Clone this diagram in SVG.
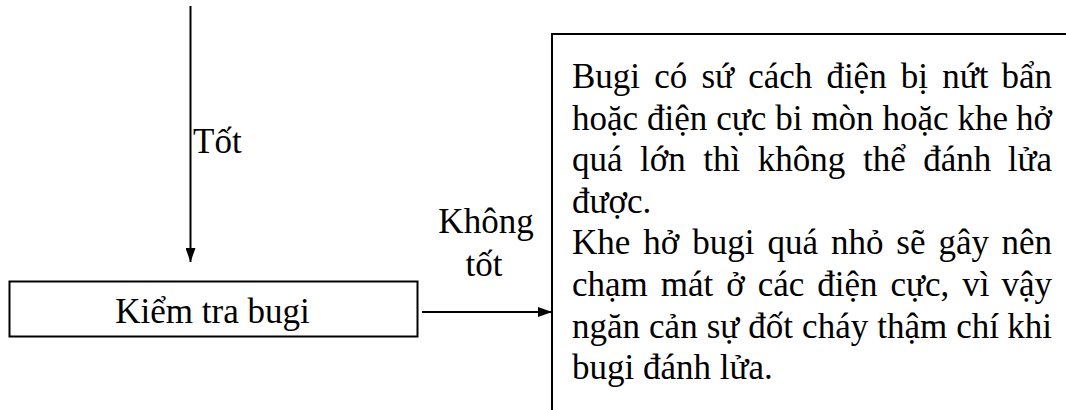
<svg xmlns="http://www.w3.org/2000/svg" width="1066" height="410" viewBox="0 0 1066 410">
<style>
text{font-family:"Liberation Serif","Times New Roman",serif;font-size:35px;fill:#000}
.ln{stroke:#000;stroke-width:2;fill:none}
.box{stroke:#000;stroke-width:2;fill:#fff}
</style>
<defs>
<marker id="ah" markerWidth="14" markerHeight="10" refX="14" refY="5" orient="auto" markerUnits="userSpaceOnUse">
<path d="M0,0 L14,5 L0,10 Z" fill="#000"/>
</marker>
</defs>
<rect width="1066" height="410" fill="#fff"/>
<g id="connectors">
<line class="ln" x1="190.5" y1="6" x2="190.5" y2="262" marker-end="url(#ah)"/>
<text x="193" y="153">Tốt</text>
<line class="ln" x1="422" y1="312" x2="552" y2="312" marker-end="url(#ah)"/>
<text x="486" y="233" text-anchor="middle">Không</text>
<text x="484" y="276" text-anchor="middle">tốt</text>
</g>
<g id="node-kiem-tra">
<rect class="box" x="9.5" y="281.5" width="408" height="55"/>
<text x="212.5" y="323" text-anchor="middle">Kiểm tra bugi</text>
</g>
<g id="node-ket-qua">
<path class="ln" d="M552,410 L552,34 L1066,34"/>
<text x="572" y="88" word-spacing="5.4">Bugi có sứ cách điện bị nứt</text><text x="1052" y="88" text-anchor="end">bẩn</text>
<text x="572" y="129.6" word-spacing="0.2">hoặc điện cực bi mòn hoặc khe</text><text x="1052" y="129.6" text-anchor="end">hở</text>
<text x="572" y="171.2" word-spacing="8.8">quá lớn thì không thể đánh</text><text x="1052" y="171.2" text-anchor="end">lửa</text>
<text x="572" y="212.8">được.</text>
<text x="572" y="254.4" word-spacing="4.2">Khe hở bugi quá nhỏ sẽ gây</text><text x="1052" y="254.4" text-anchor="end">nên</text>
<text x="572" y="296" word-spacing="4.2">chạm mát ở các điện cực, vì</text><text x="1052" y="296" text-anchor="end">vậy</text>
<text x="572" y="337.6" word-spacing="0.3">ngăn cản sự đốt cháy thậm chí</text><text x="1052" y="337.6" text-anchor="end">khi</text>
<text x="572" y="379.2">bugi đánh lửa.</text>
</g>
</svg>
